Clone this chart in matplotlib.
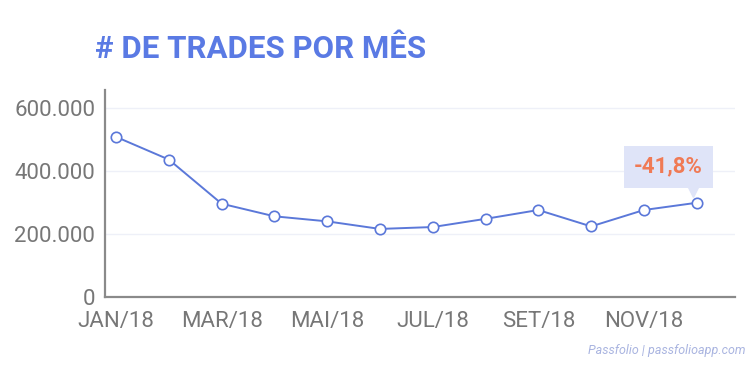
import matplotlib.pyplot as plt

meses = ['JAN/18', 'FEV/18', 'MAR/18', 'ABR/18', 'MAI/18', 'JUN/18',
         'JUL/18', 'AGO/18', 'SET/18', 'OUT/18', 'NOV/18', 'DEZ/18']
trades = [508000, 436000, 296000, 256000, 240000, 216000,
          222000, 248000, 276000, 224000, 276000, 299000]
variacao = '-41,8%'

plt.rcParams['font.family'] = ['Roboto', 'DejaVu Sans']

azul = '#5b78d9'
cinza = '#777777'

fig = plt.figure(figsize=(7.52, 3.67), dpi=100)
ax = fig.add_axes([0.1396, 0.1907, 0.8374, 0.5643])

x = list(range(len(meses)))
ax.plot(x, trades, color=azul, lw=1.4, marker='o', ms=7.5,
        mfc='white', mec=azul, mew=1.2, zorder=3)

ax.set_xlim(-0.21, 11.72)
ax.set_ylim(0, 657000)
ax.set_yticks([0, 200000, 400000, 600000])
ax.set_yticklabels(['0', '200.000', '400.000', '600.000'])
ax.set_xticks(x[::2])
ax.set_xticklabels(meses[::2])
ax.tick_params(axis='both', length=0, labelsize=16, labelcolor=cinza)
ax.tick_params(axis='y', pad=7)
ax.tick_params(axis='x', pad=10)

ax.grid(axis='y', color='#eef0f8', lw=1)
ax.set_axisbelow(True)
for s in ['top', 'right']:
    ax.spines[s].set_visible(False)
for s in ['left', 'bottom']:
    ax.spines[s].set_color('#8a8a8a')
    ax.spines[s].set_linewidth(1.6)

# caixa da variacao
ax.text(10.46, 413000, variacao, ha='center', va='center', fontsize=16,
        fontweight='bold', color='#f07a55', zorder=4,
        bbox=dict(boxstyle='square,pad=0.45', fc='#dfe4f8', ec='none'))
ax.plot([10.93], [337000], marker='v', ms=9, color='#dfe4f8', zorder=3)

fig.text(0.126, 0.842, '# DE TRADES POR MÊS', fontsize=22.5, fontweight='bold',
         color='#5a7ae4', ha='left', va='baseline')
fig.text(0.992, 0.035, 'Passfolio | passfolioapp.com', fontsize=9,
         style='italic', color='#a9b4e0', ha='right', va='baseline')

fig.savefig('out.png', dpi=100)
